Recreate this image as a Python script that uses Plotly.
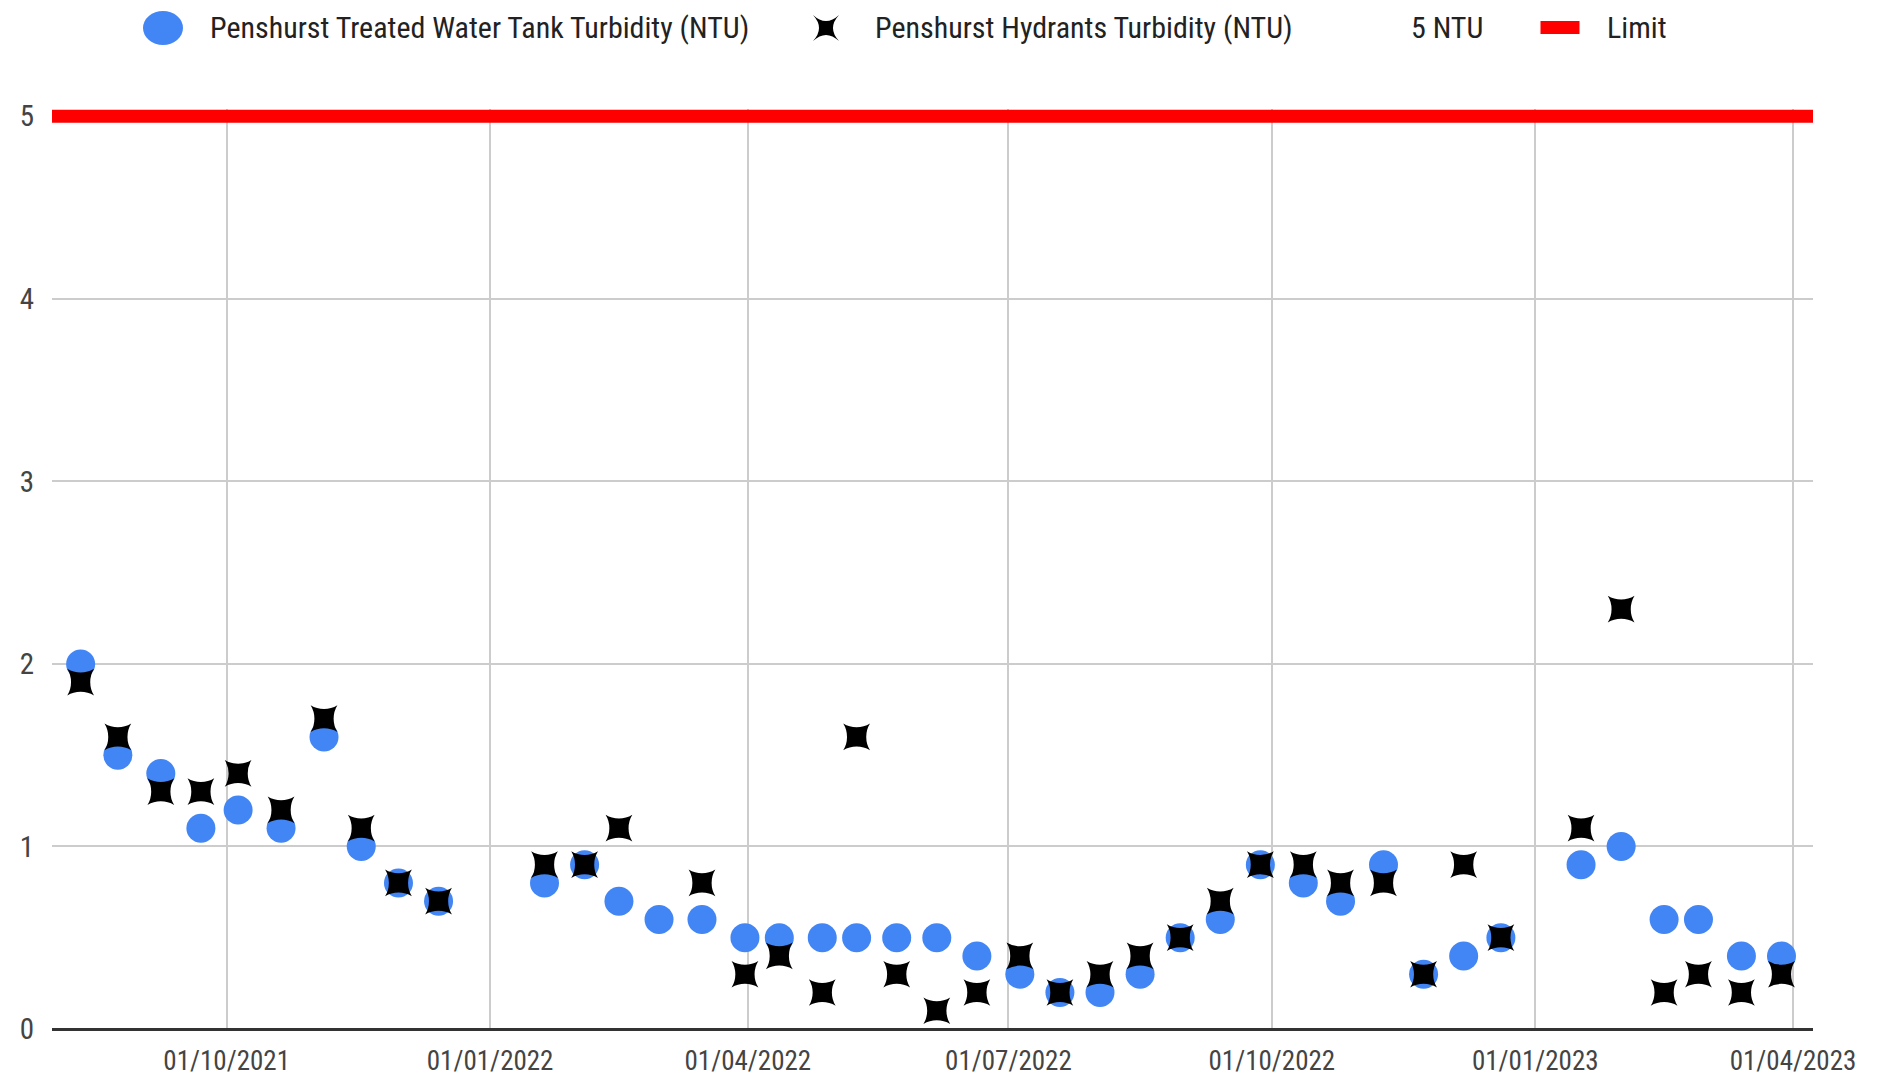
import plotly.graph_objects as go

# sample dates (fortnightly-ish)
sample_dates = ["2021-08-11", "2021-08-24", "2021-09-08", "2021-09-22", "2021-10-05",
                "2021-10-20", "2021-11-04", "2021-11-17", "2021-11-30", "2021-12-14",
                "2022-01-20", "2022-02-03", "2022-02-15", "2022-03-01", "2022-03-16",
                "2022-03-31", "2022-04-12", "2022-04-27", "2022-05-09", "2022-05-23",
                "2022-06-06", "2022-06-20", "2022-07-05", "2022-07-19", "2022-08-02",
                "2022-08-16", "2022-08-30", "2022-09-13", "2022-09-27", "2022-10-12",
                "2022-10-25", "2022-11-09", "2022-11-23", "2022-12-07", "2022-12-20",
                "2023-01-17", "2023-01-31", "2023-02-15", "2023-02-27", "2023-03-14",
                "2023-03-28"]

tank_ntu = [2.0, 1.5, 1.4, 1.1, 1.2, 1.1, 1.6, 1.0, 0.8, 0.7,
            0.8, 0.9, 0.7, 0.6, 0.6, 0.5, 0.5, 0.5, 0.5, 0.5,
            0.5, 0.4, 0.3, 0.2, 0.2, 0.3, 0.5, 0.6, 0.9, 0.8,
            0.7, 0.9, 0.3, 0.4, 0.5, 0.9, 1.0, 0.6, 0.6, 0.4,
            0.4]

hydrant_ntu = [1.9, 1.6, 1.3, 1.3, 1.4, 1.2, 1.7, 1.1, 0.8, 0.7,
               0.9, 0.9, 1.1, None, 0.8, 0.3, 0.4, 0.2, 1.6, 0.3,
               0.1, 0.2, 0.4, 0.2, 0.3, 0.4, 0.5, 0.7, 0.9, 0.9,
               0.8, 0.8, 0.3, 0.9, 0.5, 1.1, 2.3, 0.2, 0.3, 0.2,
               0.3]

limit_dates = ["2021-08-01", "2023-04-08"]
limit_ntu = [5, 5]

x_range = ["2021-08-01", "2023-04-08"]
y_ticks = [0, 1, 2, 3, 4, 5]

series_names = ["Penshurst Treated Water Tank Turbidity (NTU)",
                "Penshurst Hydrants Turbidity (NTU)",
                "5 NTU",
                "Limit"]

BLUE = "#4285F4"
RED = "#FF0000"
FONT = "Liberation Sans Narrow, Arial Narrow, Roboto Condensed, sans-serif"

# page body has an 8px margin, so the figure is a bit smaller than the window
OFF = 8
W, H = 1883 - 2 * OFF, 1086 - 2 * OFF
ML, MR, MT, MB = 52 - OFF, 62, 109 - OFF, 49
pw = W - ML - MR
ph = H - MT - MB

def px_x(px):
    # window pixel -> paper x
    return (px - OFF - ML) / pw

def px_y(py):
    # window pixel -> paper y
    return 1 + (MT - (py - OFF)) / ph

fig = go.Figure()

fig.add_trace(go.Scatter(
    x=sample_dates, y=tank_ntu, mode="markers", name=series_names[0],
    marker=dict(color=BLUE, size=29, line=dict(width=0)),
    showlegend=False))

fig.add_trace(go.Scatter(
    x=sample_dates, y=hydrant_ntu, mode="markers", name=series_names[1],
    marker=dict(color="black", symbol="star-diamond", angle=45, size=27,
                line=dict(width=0)),
    showlegend=False))

fig.add_trace(go.Scatter(
    x=limit_dates, y=limit_ntu, mode="lines", name=series_names[3],
    line=dict(color=RED, width=13),
    showlegend=False))

# legend row drawn by hand so the swatches can be as big as the original
LEG_Y = 28
leg_text_x = [208, 873, 1409, 1605]
for name, tx in zip(series_names, leg_text_x):
    fig.add_annotation(
        x=px_x(tx), y=px_y(LEG_Y), xref="paper", yref="paper",
        xanchor="left", yanchor="middle", showarrow=False, text=name,
        font=dict(family=FONT, size=30, color="#222222"))

sw = dict(xref="paper", yref="paper", xsizemode="pixel", ysizemode="pixel",
          line=dict(width=0))
fig.add_shape(type="circle", xanchor=px_x(163), yanchor=px_y(LEG_Y),
              x0=-20, x1=20, y0=-17, y1=17, fillcolor=BLUE, **sw)
fig.add_shape(type="path", xanchor=px_x(826), yanchor=px_y(LEG_Y),
              path="M-13,-13 Q0,-1 13,-13 Q1,0 13,13 Q0,1 -13,13 Q-1,0 -13,-13 Z",
              fillcolor="black", **sw)
fig.add_shape(type="rect", xanchor=px_x(1560), yanchor=px_y(LEG_Y - 0.5),
              x0=-19.5, x1=19.5, y0=-6.5, y1=6.5, fillcolor=RED, **sw)

fig.update_layout(
    width=W, height=H,
    margin=dict(l=ML, r=MR, t=MT, b=MB, autoexpand=False),
    plot_bgcolor="white", paper_bgcolor="white",
    font=dict(family=FONT, size=29, color="#444444"),
    showlegend=False,
    xaxis=dict(
        type="date", range=x_range,
        tick0="2021-01-01", dtick="M3", tickformat="%d/%m/%Y",
        showgrid=True, gridcolor="#CCCCCC", gridwidth=2,
        showline=False, zeroline=False, ticks="",
        ticklabelstandoff=13,
        tickfont=dict(family=FONT, size=27, color="#444444")),
    yaxis=dict(
        range=[0, 5.04], tickvals=y_ticks,
        showgrid=True, gridcolor="#CCCCCC", gridwidth=2,
        zeroline=True, zerolinecolor="#333333", zerolinewidth=3,
        showline=False, ticks="", ticklabelstandoff=17,
        tickfont=dict(family=FONT, size=29, color="#444444")),
)

fig.write_html("out.html")
